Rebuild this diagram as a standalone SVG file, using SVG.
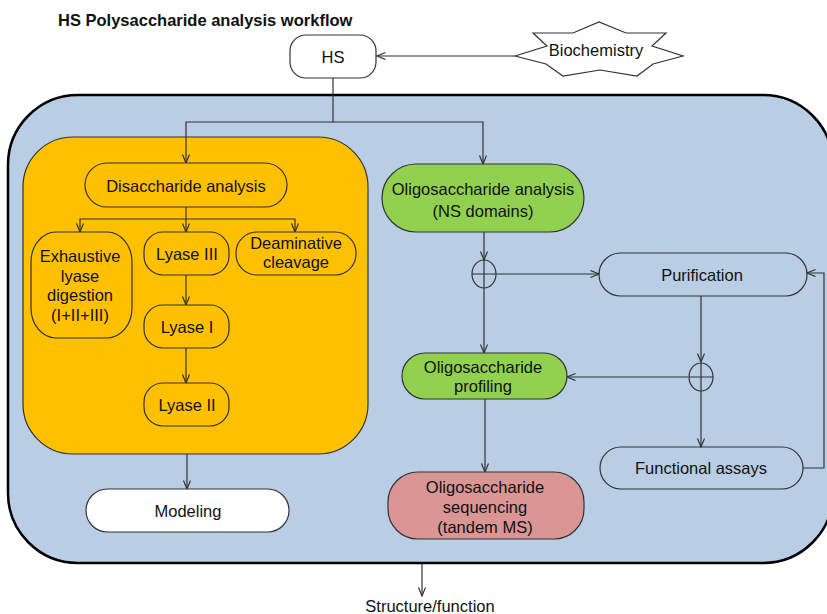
<svg xmlns="http://www.w3.org/2000/svg" width="827" height="614" viewBox="0 0 827 614">
<style>
text{font-family:"Liberation Sans",Arial,sans-serif;font-size:16.5px;fill:#111;text-anchor:middle}
.title{font-weight:bold;text-anchor:start}
.node{stroke:#333;stroke-width:1.2}
.edge{fill:none;stroke:#333;stroke-width:1.2}
.arr{marker-end:url(#ah)}
</style>
<defs>
<marker id="ah" markerUnits="userSpaceOnUse" markerWidth="10" markerHeight="10" refX="9" refY="4" orient="auto">
<path d="M0.5,0.5 L9,4 L0.5,7.5" fill="none" stroke="#333" stroke-width="1.2"/>
</marker>
</defs>
<text class="title" x="58" y="26">HS Polysaccharide analysis workflow</text>

<g id="outer"><rect x="8" y="95" width="825" height="468" rx="70" fill="#B9CDE5" stroke="#000" stroke-width="2.5"/></g>
<g id="disaccharide-group"><rect x="23" y="137" width="345" height="317" rx="50" fill="#FFC000" stroke="#333" stroke-width="1.2"/></g>

<g id="edges">
<path class="edge arr" d="M515,56 H377"/>
<path class="edge arr" d="M333,78 V122 H186 V163"/>
<path class="edge arr" d="M333,122 H483 V164"/>
<path class="edge arr" d="M186,207 V232"/>
<path class="edge arr" d="M186,219 H80 V232"/>
<path class="edge arr" d="M186,219 H295 V232"/>
<path class="edge arr" d="M186,275 V305"/>
<path class="edge arr" d="M186,348 V383"/>
<path class="edge arr" d="M187,454 V489"/>
<path class="edge arr" d="M484,232 V260"/>
<path class="edge arr" d="M484,288 V353"/>
<path class="edge arr" d="M496,274 H599"/>
<path class="edge arr" d="M701,296 V362"/>
<path class="edge arr" d="M688,377 H567"/>
<path class="edge arr" d="M701,391 V447"/>
<path class="edge arr" d="M803,468 H824 V273 H807"/>
<path class="edge arr" d="M485,399 V472"/>
<path class="edge arr" d="M422,563 V596"/>
</g>

<g id="hs"><rect class="node" x="290" y="35" width="86" height="43" rx="16" fill="#fff"/><text x="333" y="63">HS</text></g>
<g id="biochemistry"><polygon class="node" fill="#fff" points="515,56 547,46 533,33 573,33 599,22 626,33 666,33 652,46 683,56 653,64 637,76 600,70 563,76 546,64"/><text x="596" y="56">Biochemistry</text></g>

<g id="disaccharide-analysis"><rect class="node" x="85" y="163" width="202" height="44" rx="22" fill="#FFC000"/><text x="186" y="192">Disaccharide analysis</text></g>
<g id="exhaustive"><rect class="node" x="31" y="232" width="101" height="106" rx="25" ry="30" fill="#FFC000"/><text x="80" y="262">Exhaustive</text><text x="80" y="282">lyase</text><text x="80" y="301">digestion</text><text x="80" y="321">(I+II+III)</text></g>
<g id="lyase3"><rect class="node" x="144" y="232" width="85" height="43" rx="19" fill="#FFC000"/><text x="187" y="260">Lyase III</text></g>
<g id="deaminative"><rect class="node" x="236" y="232" width="120" height="43" rx="21" fill="#FFC000"/><text x="296" y="249">Deaminative</text><text x="296" y="268">cleavage</text></g>
<g id="lyase1"><rect class="node" x="144" y="305" width="85" height="43" rx="19" fill="#FFC000"/><text x="187" y="333">Lyase I</text></g>
<g id="lyase2"><rect class="node" x="144" y="383" width="85" height="43" rx="19" fill="#FFC000"/><text x="187" y="411">Lyase II</text></g>
<g id="modeling"><rect class="node" x="86" y="489" width="203" height="43" rx="21.5" fill="#fff"/><text x="188" y="517">Modeling</text></g>

<g id="oligo-analysis"><rect class="node" x="382" y="164" width="202" height="68" rx="34" fill="#92D050"/><text x="483" y="195">Oligosaccharide analysis</text><text x="483" y="217">(NS domains)</text></g>
<g id="junction1"><ellipse class="node" cx="484" cy="274" rx="12" ry="14" fill="none"/><path class="edge" d="M472,274 H496 M484,260 V288"/></g>
<g id="purification"><rect class="node" x="599" y="253" width="208" height="43" rx="21.5" fill="none"/><text x="702" y="281">Purification</text></g>
<g id="oligo-profiling"><rect class="node" x="402" y="353" width="165" height="46" rx="23" fill="#92D050"/><text x="483" y="373">Oligosaccharide</text><text x="483" y="392">profiling</text></g>
<g id="junction2"><ellipse class="node" cx="701" cy="377" rx="12" ry="14" fill="none"/><path class="edge" d="M689,377 H713 M701,363 V391"/></g>
<g id="functional-assays"><rect class="node" x="600" y="447" width="203" height="42" rx="21" fill="none"/><text x="701" y="474">Functional assays</text></g>
<g id="oligo-sequencing"><rect class="node" x="388" y="472" width="196" height="67" rx="30" fill="#D99694"/><text x="485" y="493">Oligosaccharide</text><text x="485" y="513">sequencing</text><text x="485" y="533">(tandem MS)</text></g>

<g id="structure-function"><text x="430" y="612">Structure/function</text></g>
</svg>
